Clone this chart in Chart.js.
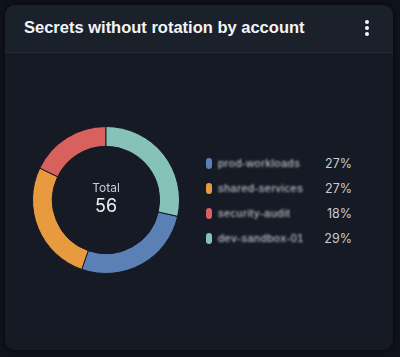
<!DOCTYPE html>
<html>
<head>
<meta charset="utf-8">
<script src="https://cdn.jsdelivr.net/npm/chart.js@4.4.1/dist/chart.umd.min.js"></script>
<style>
  html, body { margin:0; padding:0; width:400px; height:357px; background:#0f121a; overflow:hidden; font-family:"Liberation Sans", Arial, sans-serif; }
  #card { position:absolute; left:5px; top:5px; width:388px; height:345px; background:#151a24; border-radius:10px; box-shadow:0 0 4px rgba(0,0,0,0.6); overflow:hidden; }
  #header { position:absolute; left:0; top:0; width:388px; height:47px; background:#1b212b; border-bottom:1px solid #262c37; }
  #title { position:absolute; left:19px; top:13px; color:#f2f4f7; font-weight:bold; font-size:16.5px; letter-spacing:0px; }
  .dot { position:absolute; left:360px; width:4px; height:4px; border-radius:50%; background:#f5f6f8; }
  #chartBox { position:absolute; left:27px; top:121px; width:148px; height:148px; }
  #center { position:absolute; left:27px; top:121px; width:148px; height:148px; display:flex; flex-direction:column; align-items:center; justify-content:center; pointer-events:none; }
  #center .t1 { color:#c9cdd3; font-size:12px; font-family:"Inter","Liberation Sans",sans-serif; line-height:14px; margin-top:-2px; }
  #center .t2 { color:#eef0f3; font-size:18px; font-family:"Inter","Liberation Sans",sans-serif; line-height:22px; }
  #legend { position:absolute; left:0; top:0; }
  .row { position:absolute; height:16px; }
  .sw { position:absolute; left:201px; width:6px; height:11px; border-radius:3px; }
  .lab { position:absolute; left:213px; color:#d7dae0; font-size:11px; white-space:nowrap; filter:blur(1.2px); letter-spacing:0.5px; }
  .pct { position:absolute; width:60px; left:287px; text-align:right; color:#c9cdd3; font-size:12.5px; font-family:"Inter","Liberation Sans",sans-serif; }
</style>
</head>
<body>
<div id="card">
  <div id="header">
    <div id="title">Secrets without rotation by account</div>
    <div class="dot" style="top:15px"></div>
    <div class="dot" style="top:21px"></div>
    <div class="dot" style="top:27px"></div>
  </div>
  <div id="chartBox"><canvas id="c" width="148" height="148"></canvas></div>
  <div id="center"><div class="t1">Total</div><div class="t2" id="total"></div></div>
  <div id="legend"></div>
</div>
<script>
const categories = ["prod-workloads", "shared-services", "security-audit", "dev-sandbox-01"];
const values = [15, 15, 10, 16];
const colors = ["#5b80b5", "#e89a3e", "#d9615d", "#87c2b9"];

const total = values.reduce((a, b) => a + b, 0);
document.getElementById('total').textContent = total;

// rotation so the last slice starts at 12 o'clock
const rotation = values[values.length - 1] / total * 360;

new Chart(document.getElementById('c'), {
  type: 'doughnut',
  data: {
    labels: categories,
    datasets: [{
      data: values,
      backgroundColor: colors,
      borderColor: '#151a24',
      borderWidth: 1
    }]
  },
  options: {
    responsive: false,
    animation: false,
    cutout: '73%',
    rotation: rotation,
    layout: { padding: 0 },
    plugins: { legend: { display: false }, tooltip: { enabled: false } }
  }
});

const legend = document.getElementById('legend');
const rowTops = [152, 177, 202, 227];
categories.forEach((cat, i) => {
  const y = rowTops[i];
  const sw = document.createElement('div');
  sw.className = 'sw'; sw.style.top = (y + 1) + 'px'; sw.style.background = colors[i];
  const lab = document.createElement('div');
  lab.className = 'lab'; lab.style.top = y + 'px'; lab.textContent = cat;
  const pct = document.createElement('div');
  pct.className = 'pct'; pct.style.top = (y - 1) + 'px';
  pct.textContent = Math.round(values[i] / total * 100) + '%';
  legend.appendChild(sw); legend.appendChild(lab); legend.appendChild(pct);
});
</script>
</body>
</html>
